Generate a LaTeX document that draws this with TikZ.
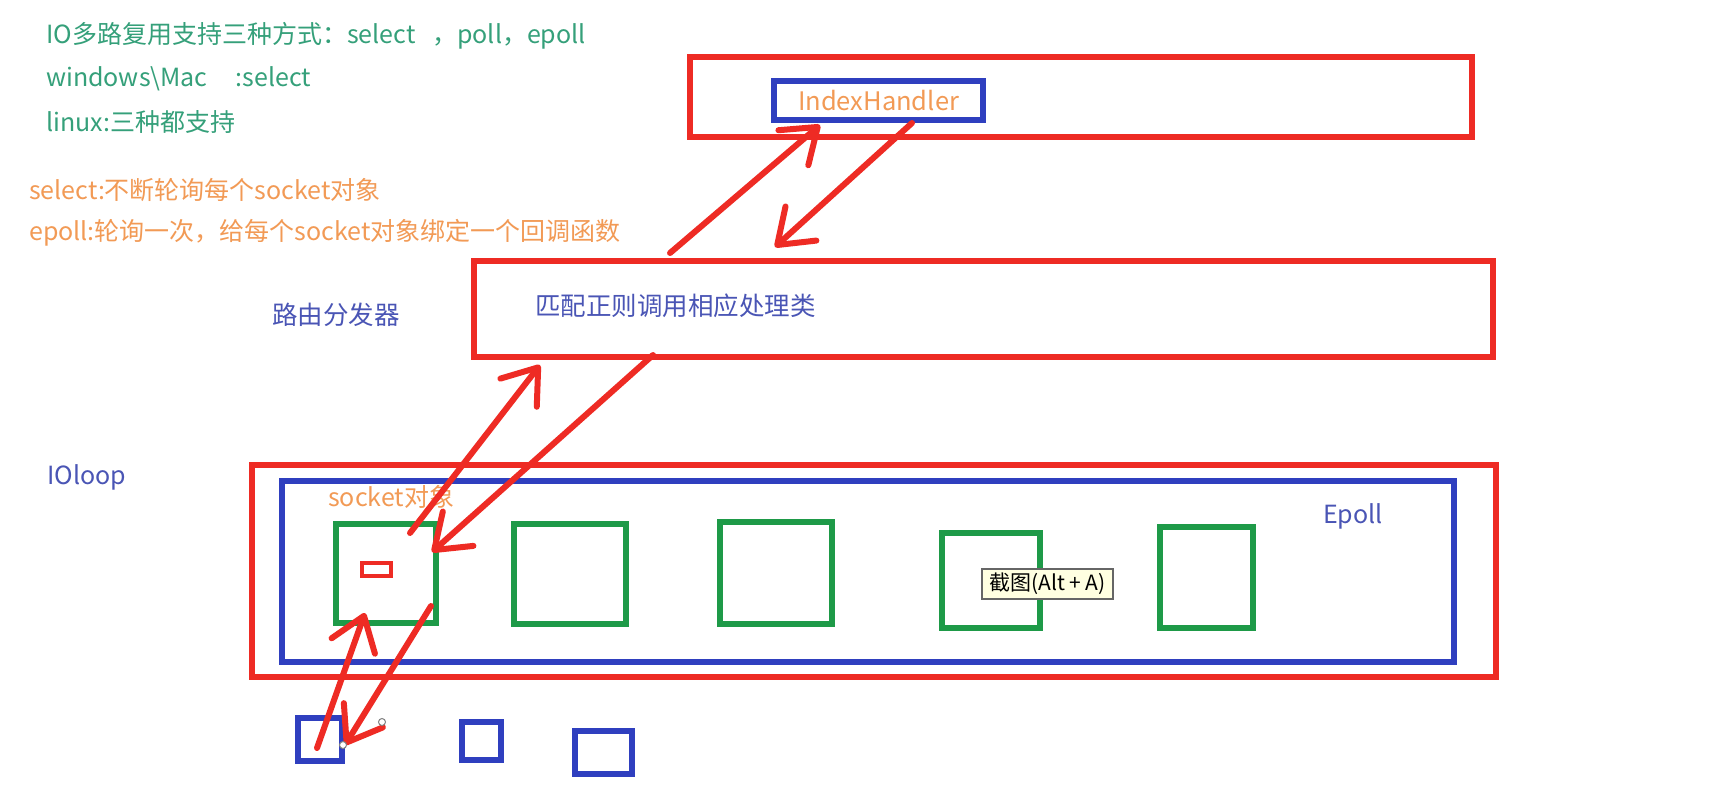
\documentclass[tikz,border=0pt]{standalone}
\usepackage{fontspec}
\setmainfont{Noto Sans CJK SC}
\usetikzlibrary{arrows.meta,calc}
\definecolor{cred}{HTML}{EE2B24}
\definecolor{cblue}{HTML}{2F3FBF}
\definecolor{cgreen}{HTML}{1E9A48}
\definecolor{tgreen}{HTML}{35A07A}
\definecolor{torange}{HTML}{F29A55}
\definecolor{tblue}{HTML}{4A55B5}
\definecolor{tipfill}{HTML}{FFFFE1}
\begin{document}
\begin{tikzpicture}[x=1pt,y=-1pt,
  wh/.style 2 args={minimum width=#1, minimum height=#2},
  boxbase/.style={draw, line width=6pt, inner sep=0pt, outer sep=0pt},
  rbox/.style={boxbase, draw=cred},
  bbox/.style={boxbase, draw=cblue},
  gbox/.style={boxbase, draw=cgreen},
  txt/.style={anchor=west, inner sep=0pt, font=\fontsize{25}{29}\selectfont},
  arr/.style={draw=cred, line width=6pt, line cap=round,
    -{Straight Barb[length=32pt,width=46pt,round]}},
  handle/.style={circle, draw=gray, fill=white, line width=1pt, minimum size=7pt, inner sep=0pt},
  tipbox/.style={draw=black!60, fill=tipfill, line width=1.5pt, inner sep=1pt,
    minimum width=131pt, minimum height=30pt, font=\fontsize{21}{24}\selectfont}
]
\useasboundingbox[fill=white] (0,0) rectangle (1734,785);

% top-left notes
\node[txt, text=tgreen] (n1) at (46,36) {IO多路复用支持三种方式：select\ \ \ ，poll，epoll};
\node[txt, text=tgreen] (n2) at (46,79) {windows\textbackslash Mac\ \ \ \ \ :select};
\node[txt, text=tgreen] (n3) at (46,122) {linux:三种都支持};
\node[txt, text=torange] (n4) at (29,190) {select:不断轮询每个socket对象};
\node[txt, text=torange] (n5) at (29,233) {epoll:轮询一次，给每个socket对象绑定一个回调函数};

% handler layer
\node[rbox, wh={782}{80}] (top) at (1081,97) {};
\node[bbox, wh={209}{39}, text=torange, font=\fontsize{25.5}{29}\selectfont] (ih) at (878.5,100.5) {IndexHandler};

% router layer
\node[txt, text=tblue, font=\fontsize{25.5}{29}\selectfont] (router) at (272,315) {路由分发器};
\node[rbox, wh={1019}{96}] (mid) at (983.5,309) {};
\node[txt, text=tblue, font=\fontsize{25.5}{29}\selectfont] (match) at (535,306) {匹配正则调用相应处理类};

% ioloop layer
\node[txt, text=tblue] (ioloop) at (47,477) {IOloop};
\node[rbox, wh={1244}{212}] (loop) at (874,571) {};
\node[bbox, wh={1172}{181}] (epoll) at (868,571.5) {};
\node[txt, text=tblue] (epl) at (1323,516) {Epoll};
\node[txt, text=torange] (sock) at (328,497) {socket对象};

\node[gbox, wh={100}{99}] (g1) at (386,573.5) {};
\node[gbox, wh={112}{100}] (g2) at (570,574) {};
\node[gbox, wh={112}{102}] (g3) at (776,573) {};
\node[gbox, wh={98}{95}] (g4) at (991,580.5) {};
\node[gbox, wh={93}{101}] (g5) at (1206.5,577.5) {};
\node[rbox, line width=4.5pt, wh={29}{13}] (sk) at (376.5,569.5) {};

% clients
\node[bbox, wh={44}{43}] (b1) at (320,739.5) {};
\node[bbox, wh={39}{38}] (b2) at (481.5,741) {};
\node[bbox, wh={57}{43}] (b3) at (603.5,752.5) {};

% arrows
\draw[arr] ($(mid.north west)+(196,-8)$) -- ($(ih.south west)+(46,5)$);
\draw[arr] ($(ih.south west)+(138,3)$) -- ($(mid.north west)+(301,-14)$);
\draw[arr] ($(g1.north west)+(74,9)$) -- ($(mid.south west)+(66,8)$);
\draw[arr] ($(mid.south west)+(179,-2)$) -- ($(g1.north east)+(-4,28)$);
\draw[arr] ($(b1.north west)+(19,30)$) -- ($(g1.south west)+(29,-10)$);
\draw[arr] ($(g1.south east)+(-5,-17)$) -- ($(b1.south east)+(3,-16)$);

\node[handle] (h1) at (343,745) {};
\node[handle] (h2) at (382,722) {};

% screenshot tooltip
\node[tipbox] (tt) at (1047.5,584) {截图(Alt + A)};
\end{tikzpicture}
\end{document}
